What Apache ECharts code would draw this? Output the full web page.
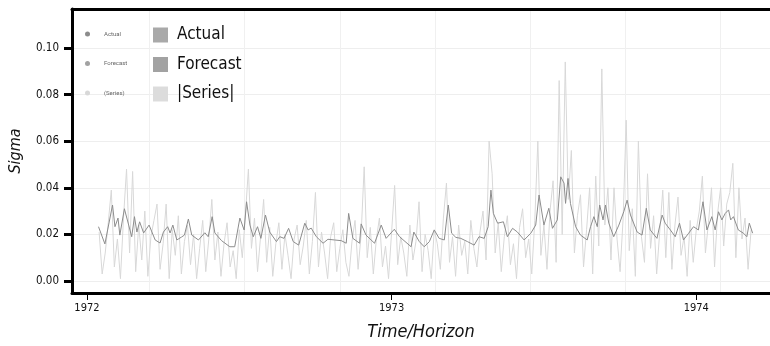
<!DOCTYPE html>
<html>
<head>
<meta charset="utf-8">
<script src="https://cdn.jsdelivr.net/npm/echarts@6/dist/echarts.min.js"></script>
<style>
  html, body { margin: 0; padding: 0; background: #fff; }
  #chart { width: 770px; height: 346px; }
</style>
</head>
<body>
<div id="chart"></div>
<script>
// Fitted sigma (Actual)
const actualYears = [
  1972.038, 1972.059, 1972.084, 1972.092, 1972.102, 1972.108, 1972.123, 1972.137, 1972.147, 1972.156,
  1972.164, 1972.173, 1972.186, 1972.204, 1972.224, 1972.240, 1972.251, 1972.265, 1972.273, 1972.282,
  1972.295, 1972.311, 1972.320, 1972.333, 1972.344, 1972.366, 1972.387, 1972.398, 1972.411, 1972.420,
  1972.442, 1972.469, 1972.485, 1972.502, 1972.516, 1972.524, 1972.535, 1972.546, 1972.560, 1972.571,
  1972.586, 1972.600, 1972.622, 1972.633, 1972.647, 1972.662, 1972.677, 1972.695, 1972.715, 1972.726,
  1972.736, 1972.753, 1972.775, 1972.791, 1972.813, 1972.835, 1972.851, 1972.859, 1972.873, 1972.895,
  1972.900, 1972.916, 1972.944, 1972.966, 1972.982, 1973.009, 1973.026, 1973.064, 1973.073, 1973.091,
  1973.107, 1973.124, 1973.140, 1973.156, 1973.173, 1973.186, 1973.197, 1973.211, 1973.227, 1973.249,
  1973.271, 1973.287, 1973.304, 1973.317, 1973.326, 1973.334, 1973.348, 1973.367, 1973.380, 1973.397,
  1973.413, 1973.435, 1973.457, 1973.473, 1973.484, 1973.500, 1973.516, 1973.528, 1973.544, 1973.555,
  1973.566, 1973.571, 1973.579, 1973.587, 1973.604, 1973.620, 1973.642, 1973.653, 1973.664, 1973.675,
  1973.683, 1973.694, 1973.702, 1973.713, 1973.729, 1973.746, 1973.762, 1973.773, 1973.784, 1973.806,
  1973.822, 1973.836, 1973.849, 1973.871, 1973.888, 1973.898, 1973.915, 1973.931, 1973.945, 1973.958,
  1973.975, 1973.991, 1974.007, 1974.022, 1974.035, 1974.051, 1974.062, 1974.073, 1974.084, 1974.095,
  1974.106, 1974.113, 1974.122, 1974.138, 1974.155, 1974.166, 1974.174, 1974.185
];
const actualSigma = [
  0.0233, 0.0159, 0.0326, 0.0233, 0.0270, 0.0197, 0.0310, 0.0240, 0.0190, 0.0276,
  0.0210, 0.0254, 0.0206, 0.0240, 0.0176, 0.0163, 0.0210, 0.0233, 0.0206, 0.0240,
  0.0176, 0.0189, 0.0197, 0.0266, 0.0197, 0.0176, 0.0207, 0.0190, 0.0276, 0.0206,
  0.0173, 0.0147, 0.0147, 0.0270, 0.0219, 0.0340, 0.0240, 0.0190, 0.0233, 0.0183,
  0.0283, 0.0210, 0.0169, 0.0190, 0.0183, 0.0226, 0.0169, 0.0154, 0.0248, 0.0219,
  0.0227, 0.0190, 0.0162, 0.0179, 0.0176, 0.0173, 0.0162, 0.0290, 0.0183, 0.0162,
  0.0245, 0.0197, 0.0162, 0.0240, 0.0183, 0.0222, 0.0190, 0.0147, 0.0210, 0.0169,
  0.0147, 0.0169, 0.0219, 0.0183, 0.0176, 0.0326, 0.0205, 0.0187, 0.0183, 0.0169,
  0.0154, 0.0190, 0.0183, 0.0233, 0.0390, 0.0290, 0.0248, 0.0254, 0.0190, 0.0226,
  0.0210, 0.0176, 0.0205, 0.0240, 0.0369, 0.0240, 0.0312, 0.0226, 0.0262, 0.0447,
  0.0420, 0.0333, 0.0440, 0.0333, 0.0233, 0.0197, 0.0176, 0.0233, 0.0276, 0.0233,
  0.0326, 0.0262, 0.0326, 0.0248, 0.0190, 0.0240, 0.0297, 0.0347, 0.0283, 0.0210,
  0.0197, 0.0312, 0.0219, 0.0183, 0.0283, 0.0248, 0.0219, 0.0190, 0.0248, 0.0176,
  0.0205, 0.0233, 0.0219, 0.0340, 0.0219, 0.0276, 0.0219, 0.0297, 0.0262, 0.0290,
  0.0305, 0.0262, 0.0276, 0.0219, 0.0205, 0.0190, 0.0248, 0.0205
];

// |Series| (absolute returns), one value every 0.01 year from 1972.04
const seriesStart = 1972.04;
const seriesStep = 0.01;
const absSeries = [
  0.021, 0.003, 0.012, 0.025, 0.039, 0.006, 0.018, 0.001, 0.027, 0.048,
  0.012, 0.047, 0.004, 0.024, 0.009, 0.030, 0.002, 0.019, 0.026, 0.033,
  0.005, 0.016, 0.033, 0.001, 0.022, 0.011, 0.028, 0.003, 0.017, 0.024,
  0.007, 0.020, 0.001, 0.014, 0.026, 0.004, 0.018, 0.035, 0.009, 0.021,
  0.002, 0.016, 0.025, 0.006, 0.013, 0.001, 0.022, 0.010, 0.028, 0.048,
  0.014, 0.027, 0.004, 0.019, 0.035, 0.008, 0.023, 0.002, 0.016, 0.025,
  0.005, 0.020, 0.011, 0.001, 0.018, 0.024, 0.007, 0.015, 0.026, 0.003,
  0.017, 0.038, 0.006, 0.021, 0.012, 0.001, 0.019, 0.025, 0.004, 0.014,
  0.022, 0.008, 0.002, 0.017, 0.026, 0.005, 0.020, 0.049, 0.010, 0.023,
  0.003, 0.018, 0.027, 0.006, 0.015, 0.001, 0.021, 0.041, 0.007, 0.019,
  0.012, 0.002, 0.024, 0.009, 0.017, 0.034, 0.004, 0.020, 0.013, 0.001,
  0.022, 0.016, 0.005, 0.027, 0.042, 0.008, 0.019, 0.002, 0.024, 0.011,
  0.017, 0.003, 0.026, 0.014, 0.006, 0.021, 0.030, 0.009, 0.060, 0.046,
  0.012, 0.025, 0.004, 0.019, 0.028, 0.007, 0.016, 0.001, 0.023, 0.031,
  0.010, 0.018, 0.003, 0.026, 0.060, 0.011, 0.024, 0.005, 0.030, 0.043,
  0.008, 0.086, 0.020, 0.094, 0.035, 0.056, 0.012, 0.028, 0.037, 0.006,
  0.022, 0.040, 0.003, 0.045, 0.015, 0.091, 0.024, 0.040, 0.009, 0.040,
  0.018, 0.004, 0.027, 0.069, 0.013, 0.031, 0.002, 0.060, 0.019, 0.008,
  0.046, 0.014, 0.028, 0.003, 0.021, 0.039, 0.010, 0.038, 0.005, 0.024,
  0.036, 0.011, 0.019, 0.002, 0.026, 0.008, 0.022, 0.030, 0.045, 0.012,
  0.025, 0.040, 0.006, 0.029, 0.040, 0.015, 0.033, 0.038, 0.0505, 0.010,
  0.040, 0.018, 0.027, 0.005, 0.022
];

const yearTicks = [1972, 1973, 1974];
const sigmaTicks = [0, 0.02, 0.04, 0.06, 0.08, 0.10];
const gridYears = [1972.206, 1972.518, 1972.830, 1973.142, 1973.454, 1973.766, 1974.078];
const legendNames = ['Actual', 'Forecast', '|Series|'];

const narrow = "'DejaVu Sans Condensed', 'DejaVu Sans', sans-serif";

const chart = echarts.init(document.getElementById('chart'));

chart.setOption({
  animation: false,
  grid: { left: 70, right: 0, top: 9, bottom: 53 },
  legend: [
    {
      // small legend, top left
      data: legendNames,
      orient: 'vertical',
      left: 80,
      top: 25,
      icon: 'circle',
      itemWidth: 5,
      itemHeight: 5,
      itemGap: 21.5,
      formatter: name => name === '|Series|' ? '(Series)' : name,
      textStyle: { fontSize: 6, lineHeight: 8, color: '#666', fontFamily: 'Roboto', padding: [0, 0, 0, 9] }
    },
    {
      data: [
        { name: 'Actual', itemStyle: { color: '#a9a9a9' } },
        { name: 'Forecast', itemStyle: { color: '#a2a2a2' } },
        { name: '|Series|', itemStyle: { color: '#dcdcdc' } }
      ],
      orient: 'vertical',
      left: 148,
      top: 21.5,
      icon: 'rect',
      itemWidth: 15,
      itemHeight: 15,
      itemGap: 12.5,
      textStyle: { fontSize: 17, lineHeight: 15, color: '#111', fontFamily: narrow, padding: [0, 0, 0, 4] }
    }
  ],
  xAxis: [
    {
      type: 'value',
      min: 1971.951,
      max: 1974.242,
      name: 'Time/Horizon',
      nameLocation: 'middle',
      nameGap: 30,
      nameTextStyle: { fontSize: 18, fontStyle: 'italic', color: '#111', fontFamily: narrow },
      axisLine: { onZero: false, lineStyle: { color: '#000', width: 3 } },
      axisTick: { customValues: yearTicks, length: 7, lineStyle: { color: '#000', width: 1 } },
      axisLabel: {
        customValues: yearTicks, margin: 10, fontSize: 11, color: '#111',
        fontFamily: narrow,
        formatter: v => String(v)
      },
      splitLine: { show: false }
    },
    {
      // top border + faint vertical grid
      type: 'value',
      position: 'top',
      min: 1971.951,
      max: 1974.242,
      axisLine: { onZero: false, lineStyle: { color: '#000', width: 3 } },
      axisTick: { show: false, customValues: gridYears },
      axisLabel: { show: false },
      splitLine: { show: true, lineStyle: { color: '#f0f0f0', width: 1 } }
    }
  ],
  yAxis: {
    type: 'value',
    min: -0.00515,
    max: 0.1167,
    name: 'Sigma',
    nameLocation: 'middle',
    nameGap: 48,
    nameTextStyle: { fontSize: 16, fontStyle: 'italic', color: '#111', fontFamily: narrow },
    axisLine: { show: true, onZero: false, lineStyle: { color: '#000', width: 3 } },
    axisTick: { show: true, customValues: sigmaTicks, length: 8, lineStyle: { color: '#000', width: 3 } },
    axisLabel: {
      customValues: sigmaTicks,
      margin: 13,
      fontSize: 11.5,
      color: '#111',
      fontFamily: narrow,
      formatter: v => v.toFixed(2)
    },
    splitLine: { show: true, lineStyle: { color: '#eeeeee', width: 1 } }
  },
  series: [
    {
      name: '|Series|',
      type: 'line',
      showSymbol: false,
      color: '#d8d8d8',
      lineStyle: { width: 1, color: '#d8d8d8' },
      data: absSeries.map((v, i) => [seriesStart + i * seriesStep, v])
    },
    {
      name: 'Actual',
      type: 'line',
      showSymbol: false,
      color: '#8c8c8c',
      lineStyle: { width: 1, color: '#8c8c8c' },
      data: actualYears.map((t, i) => [t, actualSigma[i]])
    },
    {
      name: 'Forecast',
      type: 'line',
      showSymbol: false,
      color: '#a2a2a2',
      lineStyle: { width: 1, color: '#a2a2a2' },
      data: []
    }
  ]
});
</script>
</body>
</html>
